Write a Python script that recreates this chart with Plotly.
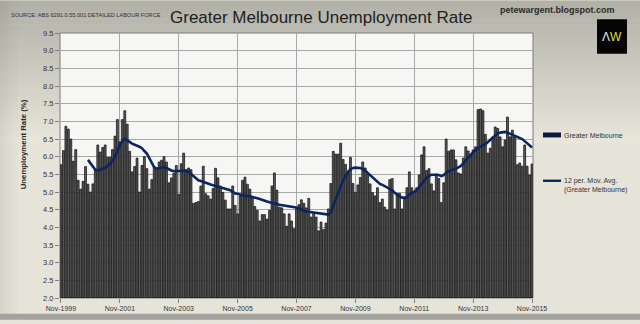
import plotly.graph_objects as go

# ---------------- data ----------------
tick_labels = ["Nov-1999", "Nov-2001", "Nov-2003", "Nov-2005", "Nov-2007",
               "Nov-2009", "Nov-2011", "Nov-2013", "Nov-2015"]
tick_months = [0, 24, 48, 72, 96, 120, 144, 168, 192]

rate = [
    5.77, 6.17, 6.86, 6.78, 6.50, 5.87, 6.20, 5.33, 5.08, 5.30, 5.72, 5.22,
    5.00, 5.23, 5.63, 6.33, 6.13, 6.26, 6.33, 5.98, 5.98, 6.20, 6.58, 7.05,
    6.42, 7.05, 7.30, 6.92, 6.15, 5.57, 5.72, 5.96, 5.00, 5.75, 6.00, 5.66,
    5.08, 5.35, 5.72, 5.68, 5.85, 5.90, 6.00, 5.85, 5.26, 5.40, 5.53, 5.75,
    4.93, 5.80, 6.10, 5.63, 5.68, 5.63, 4.68, 4.70, 4.73, 5.17, 5.73, 4.95,
    4.89, 4.80, 5.10, 5.67, 5.40, 5.17, 4.99, 4.77, 4.52, 4.52, 5.17, 4.62,
    4.38, 4.89, 5.33, 5.42, 5.22, 5.08, 4.87, 4.59, 4.48, 4.18, 4.36, 4.36,
    4.23, 4.48, 5.17, 5.54, 5.05, 4.57, 4.55, 4.38, 4.03, 4.38, 4.18, 3.96,
    4.52, 4.64, 4.78, 4.68, 4.55, 4.82, 4.29, 4.40, 4.29, 3.90, 4.15, 3.94,
    4.12, 4.52, 5.24, 6.15, 6.07, 6.07, 6.38, 5.92, 5.78, 5.54, 5.98, 5.24,
    4.99, 5.20, 5.41, 5.85, 5.68, 5.50, 5.23, 4.98, 4.89, 5.12, 4.70, 4.80,
    4.57, 4.49, 5.35, 5.38, 4.52, 4.96, 4.96, 4.52, 4.80, 5.12, 5.57, 5.12,
    5.01, 5.12, 5.48, 6.05, 6.28, 5.61, 5.66, 5.23, 5.03, 5.51, 5.38, 4.70,
    5.26, 6.50, 6.15, 6.19, 6.19, 5.91, 5.54, 5.51, 5.96, 6.28, 6.16, 6.05,
    6.19, 6.28, 7.33, 7.35, 7.30, 6.63, 6.10, 6.24, 6.56, 6.84, 6.80, 6.56,
    6.28, 6.47, 7.12, 6.56, 6.75, 6.54, 5.77, 5.82, 5.73, 6.33, 5.73, 5.48,
    5.79,
]

mov_avg = [
    5.91, 5.82, 5.71, 5.63, 5.62, 5.62, 5.66, 5.68, 5.74, 5.79, 5.88, 6.00,
    6.14, 6.33, 6.44, 6.50, 6.47, 6.42, 6.37, 6.35, 6.31, 6.28, 6.24, 6.16,
    6.09, 5.96, 5.82, 5.70, 5.66, 5.68, 5.68, 5.70, 5.68, 5.64, 5.61, 5.59,
    5.59, 5.61, 5.61, 5.61, 5.60, 5.57, 5.51, 5.45, 5.38, 5.33, 5.31, 5.28,
    5.26, 5.23, 5.21, 5.19, 5.17, 5.15, 5.13, 5.12, 5.11, 5.08, 5.05, 5.00,
    4.96, 4.95, 4.94, 4.91, 4.89, 4.89, 4.88, 4.86, 4.85, 4.82, 4.80, 4.77,
    4.75, 4.73, 4.71, 4.70, 4.68, 4.66, 4.64, 4.63, 4.62, 4.60, 4.59, 4.58,
    4.57, 4.56, 4.55, 4.50, 4.46, 4.45, 4.44, 4.44, 4.43, 4.43, 4.41, 4.40,
    4.39, 4.38, 4.36, 4.43, 4.62, 4.80, 4.99, 5.17, 5.33, 5.45, 5.57, 5.64,
    5.68, 5.69, 5.69, 5.68, 5.65, 5.61, 5.54, 5.48, 5.42, 5.36, 5.29, 5.23,
    5.20, 5.16, 5.12, 5.08, 5.05, 4.98, 4.92, 4.88, 4.84, 4.83, 4.84, 4.92,
    4.98, 5.01, 5.05, 5.14, 5.23, 5.33, 5.40, 5.45, 5.49, 5.49, 5.49, 5.48,
    5.45, 5.48, 5.54, 5.59, 5.61, 5.63, 5.66, 5.70, 5.74, 5.81, 5.88, 5.96,
    6.05, 6.13, 6.19, 6.24, 6.28, 6.33, 6.35, 6.41, 6.47, 6.54, 6.61, 6.66,
    6.68, 6.70, 6.70, 6.68, 6.65, 6.61, 6.58, 6.56, 6.52, 6.50, 6.44, 6.38,
    6.31, 6.26,
]

months = list(range(len(rate)))
ma_months = list(range(len(rate) - len(mov_avg), len(rate)))

y_ticks = [2.0 + 0.5 * i for i in range(16)]

# ---------------- layout helpers ----------------
W, H = 640, 324
L, R, T, B = 60, 533, 33, 302   # plot area in pixels


def px(x):
    return (x - L) / (R - L)


def py(y):
    return (B - y) / (B - T)


SANS = "Liberation Sans, Arial, sans-serif"

fig = go.Figure()

fig.add_trace(go.Bar(
    x=months, y=[v - 2.0 for v in rate], base=2.0,
    name="Greater Melbourne",
    marker=dict(color="#5c5c5c", line=dict(color="#080808", width=0.7)),
    width=0.78,
    showlegend=False,
))

fig.add_trace(go.Scatter(
    x=ma_months, y=mov_avg, mode="lines",
    name="12 per. Mov. Avg. (Greater Melbourne)",
    line=dict(color="#0d2463", width=2.6),
    showlegend=False,
))

shapes = []
# background gradient bands (top darker)
top_c = (178, 177, 168)
bot_c = (232, 230, 218)
n = 24
for i in range(n):
    y0 = i * 6
    y1 = y0 + 6.5
    t = i / (n - 1)
    c = tuple(int(top_c[k] + (bot_c[k] - top_c[k]) * t) for k in range(3))
    shapes.append(dict(type="rect", xref="paper", yref="paper",
                       x0=px(0), x1=px(W), y0=py(y1), y1=py(y0),
                       fillcolor="rgb(%d,%d,%d)" % c, line=dict(width=0),
                       layer="below"))
# left darker strip
for i in range(6):
    a = 0.10 * (1 - i / 6)
    shapes.append(dict(type="rect", xref="paper", yref="paper",
                       x0=px(i * 3), x1=px(i * 3 + 3), y0=py(H), y1=py(0),
                       fillcolor="rgba(90,90,85,%.3f)" % a, line=dict(width=0),
                       layer="below"))
# bottom strip
shapes.append(dict(type="rect", xref="paper", yref="paper",
                   x0=px(0), x1=px(W), y0=py(H), y1=py(318),
                   fillcolor="#a3a29d", line=dict(width=0), layer="below"))
# plot area background
shapes.append(dict(type="rect", xref="paper", yref="paper",
                   x0=0, x1=1, y0=0, y1=1,
                   fillcolor="#f6f6f4", line=dict(color="#7a7a7a", width=1),
                   layer="below"))
# logo box
shapes.append(dict(type="rect", xref="paper", yref="paper",
                   x0=px(597), x1=px(627), y0=py(54), y1=py(19),
                   fillcolor="#050505", line=dict(width=0), layer="above"))
# legend swatches
shapes.append(dict(type="rect", xref="paper", yref="paper",
                   x0=px(543), x1=px(561), y0=py(139), y1=py(134),
                   fillcolor="#0d1a3f", line=dict(width=0), layer="above"))
shapes.append(dict(type="line", xref="paper", yref="paper",
                   x0=px(543), x1=px(561), y0=py(183), y1=py(183),
                   line=dict(color="#0d2463", width=2.4), layer="above"))

annotations = [
    dict(text="SOURCE: ABS 6291.0.55.001 DETAILED LABOUR FORCE",
         x=px(9), y=py(15), xanchor="left", yanchor="middle",
         font=dict(family=SANS, size=5.6, color="#333333")),
    dict(text="Greater Melbourne Unemployment Rate",
         x=px(321), y=py(17), xanchor="center", yanchor="middle",
         font=dict(family=SANS, size=17, color="#1e1e1e")),
    dict(text="<b>petewargent.blogspot.com</b>",
         x=px(557), y=py(10), xanchor="center", yanchor="middle",
         font=dict(family=SANS, size=9, color="#2a2a2a")),
    dict(text="<span style='color:#e8e8e8'>Λ</span><span style='color:#e3dc3a'>W</span>",
         x=px(612), y=py(37), xanchor="center", yanchor="middle",
         font=dict(family=SANS, size=12)),
    dict(text="<b>Unemployment Rate (%)</b>",
         x=px(23), y=py(146), xanchor="center", yanchor="middle", textangle=-90,
         font=dict(family=SANS, size=7.8, color="#2a2a2a")),
    dict(text="Greater Melbourne",
         x=px(562), y=py(137), xanchor="left", yanchor="middle",
         font=dict(family=SANS, size=7, color="#333333")),
    dict(text="12 per. Mov. Avg.<br>(Greater Melbourne)",
         x=px(562), y=py(188), xanchor="left", yanchor="middle", align="left",
         font=dict(family=SANS, size=7, color="#333333")),
]
for a in annotations:
    a.update(xref="paper", yref="paper", showarrow=False)

fig.update_layout(
    width=W, height=H,
    margin=dict(l=L, r=W - R, t=T, b=H - B, pad=0),
    paper_bgcolor="#e6e4d8",
    plot_bgcolor="rgba(0,0,0,0)",
    bargap=0.2,
    shapes=shapes,
    annotations=annotations,
    showlegend=False,
    xaxis=dict(
        range=[-0.4, 192.4],
        tickmode="array", tickvals=tick_months, ticktext=tick_labels,
        showgrid=True, gridcolor="#a8a8a8", gridwidth=1,
        ticks="outside", ticklen=4, tickcolor="#808080",
        tickfont=dict(family=SANS, size=7, color="#333333"),
        showline=False, zeroline=False, fixedrange=True,
    ),
    yaxis=dict(
        range=[2.0, 9.5],
        tickmode="array", tickvals=y_ticks,
        ticktext=["%.1f" % v for v in y_ticks],
        showgrid=True, gridcolor="#a8a8a8", gridwidth=1,
        ticks="outside", ticklen=4, tickcolor="#808080",
        tickfont=dict(family=SANS, size=7.5, color="#333333"),
        showline=False, zeroline=False, fixedrange=True,
    ),
)

fig.write_html("out.html")
